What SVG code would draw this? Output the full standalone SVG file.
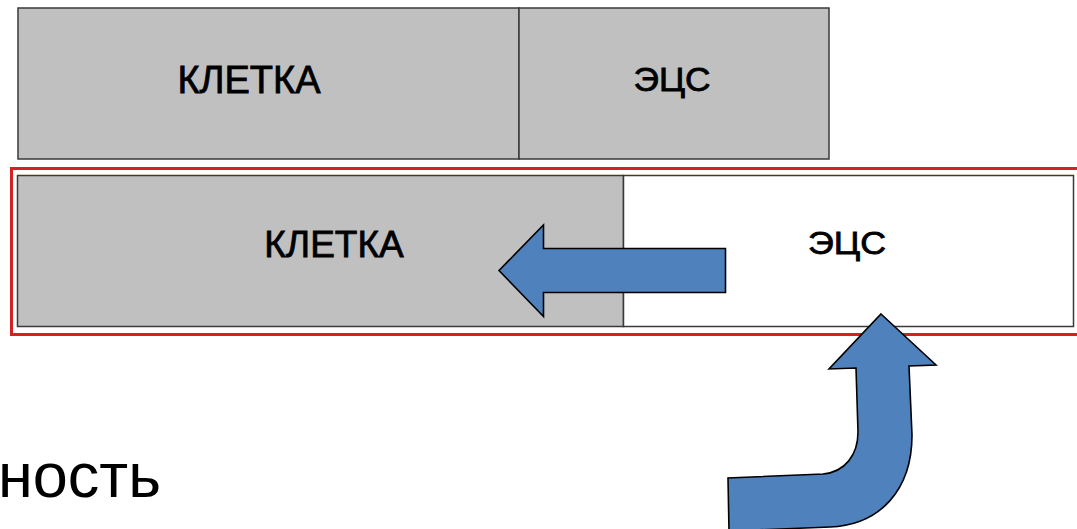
<svg xmlns="http://www.w3.org/2000/svg" width="1077" height="529" viewBox="0 0 1077 529">
<style>
.cell{fill:#c0c0c0;stroke:#3a3a3a;stroke-width:1.5}
.white{fill:#ffffff;stroke:#3a3a3a;stroke-width:1.5}
.lbl{font-family:"Liberation Sans",Arial,sans-serif;fill:#000;stroke:#000;stroke-width:0.8;text-anchor:middle}
.arrow{fill:#4f81bd;stroke:#000;stroke-width:1.6;stroke-linejoin:miter}
</style>
<rect x="0" y="0" width="1077" height="529" fill="#ffffff"/>
<g id="top-kletka">
<rect class="cell" x="18" y="8" width="501" height="151"/>
<text class="lbl" x="249" y="93" font-size="38">КЛЕТКА</text>
</g>
<g id="top-ecs">
<rect class="cell" x="519" y="8" width="310" height="151"/>
<text class="lbl" x="672" y="91" font-size="33" textLength="77" lengthAdjust="spacingAndGlyphs">ЭЦС</text>
</g>
<g id="frame">
<rect x="11.5" y="168.5" width="1080" height="166" fill="none" stroke="#d42222" stroke-width="3"/>
</g>
<g id="bottom-kletka">
<rect class="cell" x="17.5" y="175.5" width="606" height="151"/>
<text class="lbl" x="334" y="257" font-size="37">КЛЕТКА</text>
</g>
<g id="bottom-ecs">
<rect class="white" x="623.5" y="175.5" width="450" height="151"/>
<text class="lbl" x="847" y="254" font-size="31" textLength="78" lengthAdjust="spacingAndGlyphs">ЭЦС</text>
</g>
<g id="connectors">
<path class="arrow" d="M499 270.5 L543.5 225 L543.5 248.5 L725.5 248.5 L725.5 292.5 L543.5 292.5 L543.5 316.5 Z"/>
<path class="arrow" d="M881 314 L936 365 L909 366 L912 435 C912 490 880 525 830 527 L729 531 L728 478 L823 474 C845 472 858 455 858 432 L856 368 L829 369 Z"/>
</g>
<g id="caption">
<text x="-2" y="497" font-family="Liberation Sans,Arial,sans-serif" font-size="63" fill="#000">ность</text>
</g>
</svg>
